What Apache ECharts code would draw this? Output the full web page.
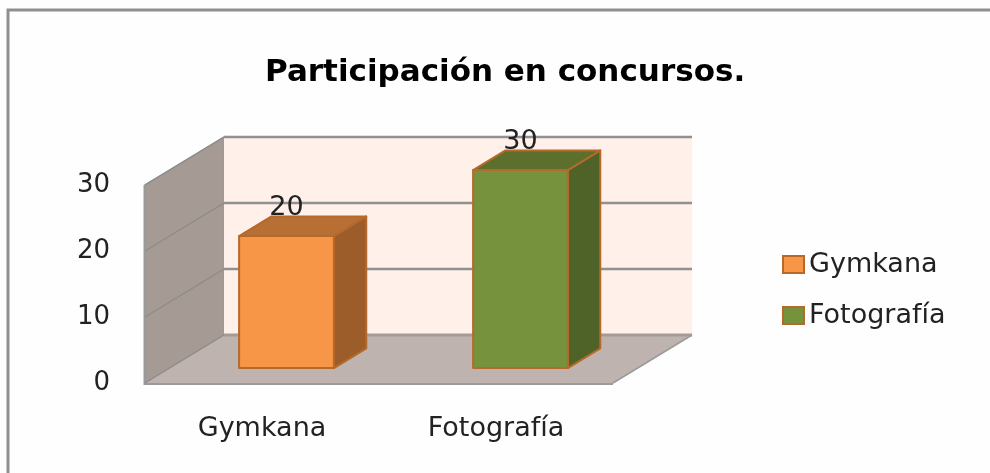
<!DOCTYPE html>
<html><head><meta charset="utf-8">
<style>html,body{margin:0;padding:0;background:#fff}#c{width:990px;height:473px}</style>
<script src="https://cdn.jsdelivr.net/npm/echarts@6/dist/echarts.min.js"></script></head>
<body><div id="c"></div>
<script>
const chartTitle = 'Participación en concursos.';
const categories = ['Gymkana', 'Fotografía'];
const gymkanaValues = [20];
const fotografiaValues = [30];
const yTicks = [0, 10, 20, 30];

const DX = 79, DY = -48;      // oblique projection of the floor depth
const BAR_SHIFT = 0.31, BAR_DEPTH = 0.41, BAR_WIDTH = 0.405;
const EDGE = '#b5692b';

function wallItem(params, api) {
  const tick = api.value(1);
  const p = api.coord([0, tick]);
  const band = api.size([1, 0])[0];
  const x0 = p[0] - band / 2, x1 = x0 + band * 2, y = p[1];
  const base = api.coord([0, 0])[1], top = api.coord([0, 30])[1];
  const kids = [];
  if (tick === 0) {
    kids.push({type: 'polygon', shape: {points: [[x0, base], [x0 + DX, base + DY], [x0 + DX, top + DY], [x0, top]]},
      style: {fill: '#a59b94', stroke: '#9a9a9a', lineWidth: 1.5}});
    kids.push({type: 'rect', shape: {x: x0 + DX, y: top + DY, width: band * 2, height: base - top},
      style: {fill: '#fff1ea'}});
    kids.push({type: 'polygon', shape: {points: [[x0, base], [x1, base], [x1 + DX, base + DY], [x0 + DX, base + DY]]},
      style: {fill: '#bfb3af'}});
    kids.push({type: 'line', shape: {x1: x0, y1: base + 1, x2: x1, y2: base + 1}, style: {stroke: '#9a9a9a', lineWidth: 2}});
    kids.push({type: 'line', shape: {x1: x1, y1: base, x2: x1 + DX, y2: base + DY}, style: {stroke: '#9a9a9a', lineWidth: 1.5}});
    kids.push({type: 'line', shape: {x1: x0, y1: top, x2: x0, y2: base + 2}, style: {stroke: '#9a9a9a', lineWidth: 3}});
  }
  kids.push({type: 'line', shape: {x1: x0, y1: y, x2: x0 + DX, y2: y + DY}, style: {stroke: '#8b8b8b', lineWidth: 1.2}});
  kids.push({type: 'line', shape: {x1: x0 + DX, y1: y + DY, x2: x1 + DX, y2: y + DY},
    style: {stroke: tick === 0 ? '#a39b97' : '#919191', lineWidth: tick === 0 ? 3 : 2.6}});
  return {type: 'group', children: kids};
}

function barItem(colors) {
  return function (params, api) {
    const top = api.coord([api.value(0), api.value(1)]);
    const base = api.coord([api.value(0), 0]);
    const band = api.size([1, 0])[0];
    const w = band * BAR_WIDTH;
    const sx = DX * BAR_SHIFT, sy = DY * BAR_SHIFT;
    const dx = DX * BAR_DEPTH, dy = DY * BAR_DEPTH;
    const xL = top[0] + sx - w / 2, xR = xL + w, yT = top[1] + sy, yB = base[1] + sy;
    const edge = {stroke: EDGE, lineWidth: 2, lineJoin: 'round'};
    return {type: 'group', children: [
      {type: 'polygon', shape: {points: [[xR, yB], [xR + dx, yB + dy], [xR + dx, yT + dy], [xR, yT]]},
        style: Object.assign({fill: colors.side}, edge)},
      {type: 'polygon', shape: {points: [[xL, yT], [xL + dx, yT + dy], [xR + dx, yT + dy], [xR, yT]]},
        style: Object.assign({fill: colors.top}, edge)},
      {type: 'rect', shape: {x: xL, y: yT, width: w, height: yB - yT},
        style: Object.assign({fill: colors.front}, edge)},
      {type: 'text', x: (xL + xR) / 2, y: yT - 28,
        style: {text: String(api.value(1)), fill: '#222', font: '27px "DejaVu Sans"', align: 'center', verticalAlign: 'middle'}}
    ]};
  };
}

function barSeries(name, values, catIndex, colors) {
  return {
    name, type: 'custom', renderItem: barItem(colors), z: 3,
    encode: {x: 0, y: 1},
    data: values.map(v => [catIndex, v]),
    itemStyle: {color: colors.front, borderColor: EDGE, borderWidth: 3}
  };
}

const chart = echarts.init(document.getElementById('c'), null, {renderer: 'canvas'});
chart.setOption({
  animation: false,
  backgroundColor: '#fefefe',
  title: {text: chartTitle, left: 260, top: 52,
    textStyle: {fontFamily: 'DejaVu Sans', fontWeight: 'bold', fontSize: 31, color: '#000'}},
  graphic: [{type: 'rect', z: -1, shape: {x: 8, y: 10, width: 1100, height: 600},
    style: {fill: 'none', stroke: '#8f8f8f', lineWidth: 3}}],
  legend: {
    orient: 'vertical', left: 782, top: 251, padding: 0, itemWidth: 21, itemHeight: 17, itemGap: 24, icon: 'rect',
    data: categories,
    textStyle: {fontFamily: 'DejaVu Sans', fontSize: 27, color: '#222'}
  },
  grid: {left: 145, top: 185, width: 468, height: 198},
  xAxis: {type: 'category', data: categories, axisLine: {show: false}, axisTick: {show: false},
    axisLabel: {margin: 32, fontFamily: 'DejaVu Sans', fontSize: 27, color: '#222'}},
  yAxis: {type: 'value', min: 0, max: 30, interval: 10, splitLine: {show: false},
    axisLine: {show: false}, axisTick: {show: false},
    axisLabel: {margin: 35, fontFamily: 'DejaVu Sans', fontSize: 26, color: '#222'}},
  series: [
    {type: 'custom', name: 'walls', silent: true, z: 1, renderItem: wallItem, encode: {x: 0, y: 1},
      data: yTicks.map(t => [0, t])},
    barSeries(categories[0], gymkanaValues, 0, {front: '#f79646', side: '#9c5d2b', top: '#b86f33'}),
    barSeries(categories[1], fotografiaValues, 1, {front: '#76923c', side: '#4f6228', top: '#5c6f2c'})
  ]
});
</script></body></html>
